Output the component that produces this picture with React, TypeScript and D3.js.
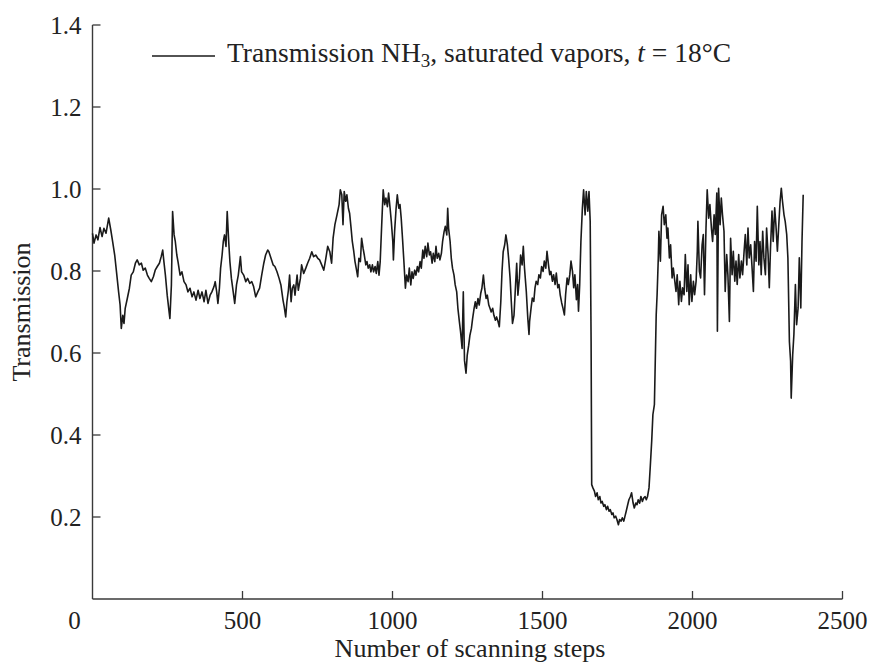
import React from "react";
import * as d3 from "d3";

const xTicks = [0, 500, 1000, 1500, 2000, 2500];
const yTicks = [0.2, 0.4, 0.6, 0.8, 1.0, 1.2, 1.4];

const series: [number, number][] = [
  [0,0.892],[5,0.868],[12,0.888],[18,0.876],[25,0.906],[32,0.884],[38,0.904],[45,0.892],[54,0.929],[61,0.900],[67,0.872],[74,0.839],[80,0.798],[87,0.749],[92,0.717],[96,0.660],[101,0.692],[105,0.672],[109,0.709],[116,0.733],[123,0.758],[129,0.790],[136,0.798],[143,0.819],[149,0.827],[156,0.815],[163,0.819],[169,0.802],[176,0.807],[183,0.790],[189,0.782],[196,0.774],[203,0.786],[209,0.802],[216,0.811],[223,0.819],[229,0.835],[234,0.851],[238,0.823],[243,0.790],[249,0.741],[254,0.709],[258,0.684],[263,0.766],[267,0.945],[272,0.888],[276,0.872],[281,0.839],[285,0.823],[292,0.790],[298,0.798],[305,0.774],[312,0.766],[318,0.749],[325,0.758],[332,0.737],[338,0.749],[345,0.729],[352,0.753],[358,0.733],[365,0.749],[372,0.725],[378,0.753],[385,0.721],[392,0.741],[398,0.749],[405,0.762],[409,0.774],[414,0.749],[418,0.721],[423,0.758],[427,0.807],[432,0.839],[436,0.872],[440,0.888],[445,0.860],[449,0.945],[454,0.872],[458,0.823],[463,0.782],[469,0.749],[474,0.721],[480,0.766],
  [486,0.790],[493,0.835],[497,0.798],[504,0.790],[511,0.774],[517,0.782],[524,0.770],[531,0.774],[537,0.762],[544,0.737],[551,0.749],[557,0.758],[564,0.790],[571,0.819],[577,0.839],[584,0.851],[588,0.847],[595,0.831],[602,0.815],[608,0.811],[615,0.798],[622,0.782],[628,0.766],[635,0.729],[639,0.713],[644,0.688],[648,0.725],[653,0.753],[657,0.790],[662,0.725],[666,0.758],[671,0.766],[675,0.741],[682,0.790],[686,0.753],[693,0.782],[697,0.815],[704,0.794],[711,0.807],[717,0.819],[724,0.831],[731,0.847],[737,0.835],[744,0.839],[751,0.831],[757,0.827],[764,0.815],[771,0.802],[777,0.827],[784,0.860],[791,0.847],[797,0.819],[802,0.880],[808,0.913],[815,0.937],[822,0.962],[826,0.998],[831,0.986],[835,0.913],[839,0.994],[844,0.970],[848,0.986],[853,0.953],[857,0.941],[862,0.904],[866,0.872],[871,0.847],[875,0.823],[879,0.807],[884,0.786],[888,0.831],[893,0.823],[897,0.880],[902,0.855],[906,0.839],[911,0.815],[915,0.823],[919,0.807],[924,0.815],[928,0.798],[933,0.815],[937,0.798],[942,0.811],[946,0.794],[951,0.823],[955,0.790],[959,0.823],
  [964,0.913],[969,0.998],[974,0.962],[978,0.978],[983,0.957],[987,0.990],[992,0.953],[996,0.921],[1001,0.872],[1003,0.827],[1007,0.896],[1012,0.953],[1016,0.986],[1021,0.953],[1025,0.962],[1029,0.929],[1034,0.872],[1038,0.823],[1043,0.758],[1047,0.790],[1052,0.774],[1056,0.807],[1061,0.766],[1065,0.798],[1069,0.782],[1074,0.802],[1078,0.790],[1083,0.811],[1087,0.798],[1092,0.823],[1096,0.807],[1101,0.851],[1105,0.831],[1109,0.860],[1114,0.835],[1118,0.868],[1123,0.839],[1127,0.847],[1132,0.819],[1136,0.843],[1141,0.823],[1145,0.860],[1149,0.831],[1154,0.843],[1158,0.827],[1163,0.843],[1167,0.872],[1172,0.896],[1176,0.909],[1181,0.888],[1184,0.953],[1187,0.904],[1192,0.872],[1196,0.831],[1200,0.807],[1205,0.790],[1209,0.766],[1214,0.749],[1218,0.709],[1223,0.676],[1227,0.651],[1232,0.611],[1236,0.749],[1240,0.582],[1245,0.551],[1249,0.594],[1254,0.619],[1258,0.643],[1263,0.660],[1267,0.684],[1272,0.709],[1276,0.725],[1280,0.709],[1285,0.733],[1289,0.717],[1294,0.745],[1298,0.758],[1303,0.790],[1307,0.758],[1312,0.733],[1316,0.741],[1321,0.717],[1325,0.709],[1329,0.700],[1334,0.709],[1338,0.692],[1343,0.680],[1347,0.688],[1352,0.676],[1356,0.664],[1361,0.725],[1365,0.798],[1369,0.847],[1374,0.864],[1378,0.888],[1383,0.864],[1387,0.831],[1392,0.782],[1396,0.725],[1400,0.672],[1405,0.692],[1409,0.749],[1414,0.819],[1418,0.741],[1423,0.782],[1427,0.839],[1432,0.815],[1436,0.860],[1440,0.807],
  [1446,0.750],[1451,0.685],[1455,0.645],[1457,0.677],[1462,0.710],[1466,0.734],[1471,0.726],[1475,0.759],[1479,0.775],[1484,0.767],[1488,0.791],[1493,0.783],[1497,0.811],[1502,0.799],[1506,0.824],[1511,0.807],[1515,0.848],[1520,0.815],[1524,0.791],[1528,0.799],[1533,0.775],[1537,0.791],[1542,0.767],[1546,0.795],[1551,0.759],[1555,0.767],[1559,0.742],[1564,0.722],[1568,0.710],[1573,0.693],[1577,0.742],[1582,0.783],[1586,0.767],[1591,0.791],[1595,0.824],[1600,0.799],[1604,0.759],[1608,0.791],[1613,0.730],[1617,0.767],[1620,0.702],[1624,0.767],[1628,0.872],[1633,0.954],[1637,0.998],[1642,0.937],[1646,0.994],[1651,0.946],[1655,0.994],[1659,0.921],[1662,0.628],[1664,0.279],[1668,0.271],[1673,0.263],[1677,0.250],[1682,0.259],[1686,0.242],[1691,0.250],[1695,0.234],[1699,0.238],[1704,0.226],[1708,0.230],[1713,0.218],[1717,0.226],[1722,0.214],[1726,0.218],[1731,0.206],[1735,0.210],[1739,0.198],[1744,0.202],[1748,0.194],[1753,0.181],[1757,0.194],[1762,0.190],[1766,0.198],[1771,0.190],[1775,0.202],[1779,0.214],[1784,0.230],[1788,0.242],[1793,0.250],[1797,0.259],[1802,0.234],[1806,0.222],[1811,0.234],[1815,0.230],[1819,0.242],[1824,0.234],[1828,0.250],[1833,0.238],[1837,0.246],[1842,0.250],[1846,0.242],[1850,0.250],[1855,0.271],[1859,0.320],[1864,0.385],[1868,0.450],[1873,0.474],[1875,0.547],[1879,0.693],[1882,0.742],[1886,0.832],[1888,0.897],[1893,0.824],[1897,0.937],[1902,0.958],[1906,0.913],[1911,0.937],[1915,0.880],
  [1918,0.905],[1923,0.832],[1927,0.864],[1932,0.783],[1936,0.807],[1941,0.775],[1945,0.750],[1949,0.791],[1954,0.718],[1958,0.775],[1963,0.726],[1967,0.759],[1972,0.742],[1976,0.840],[1981,0.750],[1985,0.815],[1989,0.718],[1994,0.791],[1998,0.726],[2003,0.775],[2007,0.742],[2012,0.775],[2016,0.848],[2018,0.921],[2023,0.799],[2027,0.783],[2032,0.864],[2036,0.889],[2040,0.742],[2045,0.905],[2049,0.998],[2054,0.929],[2058,0.962],[2063,0.905],[2067,0.872],[2072,0.937],[2076,0.889],[2081,0.990],[2083,0.653],[2087,1.002],[2092,0.913],[2096,0.978],[2100,0.937],[2105,0.897],[2109,0.750],[2114,0.840],[2118,0.791],[2123,0.677],[2127,0.880],[2132,0.791],[2136,0.848],[2141,0.775],[2145,0.824],[2149,0.767],[2154,0.840],[2158,0.783],[2163,0.824],[2167,0.791],[2172,0.848],[2176,0.889],[2181,0.815],[2185,0.905],[2189,0.832],[2194,0.864],[2198,0.815],[2203,0.750],[2207,0.872],[2212,0.824],[2216,0.958],[2221,0.815],[2225,0.872],[2229,0.791],[2234,0.897],[2238,0.832],[2243,0.791],[2247,0.905],[2252,0.840],[2256,0.759],[2260,0.856],[2265,0.946],[2269,0.872],[2274,0.954],[2278,0.913],[2283,0.848],[2287,0.905],[2292,0.970],[2296,1.002],[2300,0.970],[2305,0.937],[2309,0.921],[2314,0.889],[2318,0.832],[2323,0.628],[2327,0.580],[2329,0.490],[2334,0.596],[2338,0.645],[2343,0.767],[2347,0.669],[2352,0.710],[2356,0.832],[2361,0.710],[2365,0.872],[2369,0.986]
];

const steps = series.map((d) => d[0]);
const transmission = series.map((d) => d[1]);

const W = 870;
const H = 663;
const FONT = "'Liberation Serif', 'Times New Roman', serif";

export default function App() {
  const x = d3.scaleLinear().domain([0, 2500]).range([92.5, 842.5]);
  const y = d3.scaleLinear().domain([0, 1.4]).range([599, 25]);
  const line = d3
    .line<number>()
    .x((_, i) => x(steps[i]))
    .y((v) => y(v));
  const path = line(transmission) || "";
  const axisColor = "#3a3a3a";

  return (
    <svg
      width={W}
      height={H}
      style={{ position: "absolute", left: 0, top: 0, background: "#fff" }}
      fontFamily={FONT}
    >
      <line x1={x(0)} x2={x(0)} y1={y(0)} y2={y(1.4)} stroke={axisColor} strokeWidth={1.4} />
      <line x1={x(0)} x2={x(2500)} y1={y(0)} y2={y(0)} stroke={axisColor} strokeWidth={1.4} />
      {yTicks.map((t) => (
        <g key={"y" + t}>
          <line x1={x(0)} x2={x(0) + 8} y1={y(t)} y2={y(t)} stroke={axisColor} strokeWidth={1.3} />
          <text x={x(0) - 11} y={y(t)} dy="0.35em" textAnchor="end" fontSize={25} fill="#222">
            {t.toFixed(1)}
          </text>
        </g>
      ))}
      {xTicks.map((t) => (
        <g key={"x" + t}>
          {t > 0 && (
            <line x1={x(t)} x2={x(t)} y1={y(0)} y2={y(0) - 8} stroke={axisColor} strokeWidth={1.3} />
          )}
          <text
            x={t === 0 ? x(t) - 18 : x(t)}
            y={629}
            textAnchor="middle"
            fontSize={25}
            fill="#222"
          >
            {t}
          </text>
        </g>
      ))}
      <text x={470} y={657} textAnchor="middle" fontSize={26} fill="#222">
        Number of scanning steps
      </text>
      <text
        transform={`translate(30, 312) rotate(-90)`}
        textAnchor="middle"
        fontSize={26}
        fill="#222"
      >
        Transmission
      </text>

      <path d={path} fill="none" stroke="#1a1a1a" strokeWidth={1.6} strokeLinejoin="round" />

      <line x1={152} x2={215} y1={56} y2={56} stroke="#1a1a1a" strokeWidth={1.3} />
      <text x={227} y={62} fontSize={27.5} fill="#222">
        Transmission NH
        <tspan dy={5} fontSize={19}>3</tspan>
        <tspan dy={-5}>, saturated vapors, </tspan>
        <tspan fontStyle="italic">t</tspan>
        <tspan> = 18°C</tspan>
      </text>
    </svg>
  );
}
